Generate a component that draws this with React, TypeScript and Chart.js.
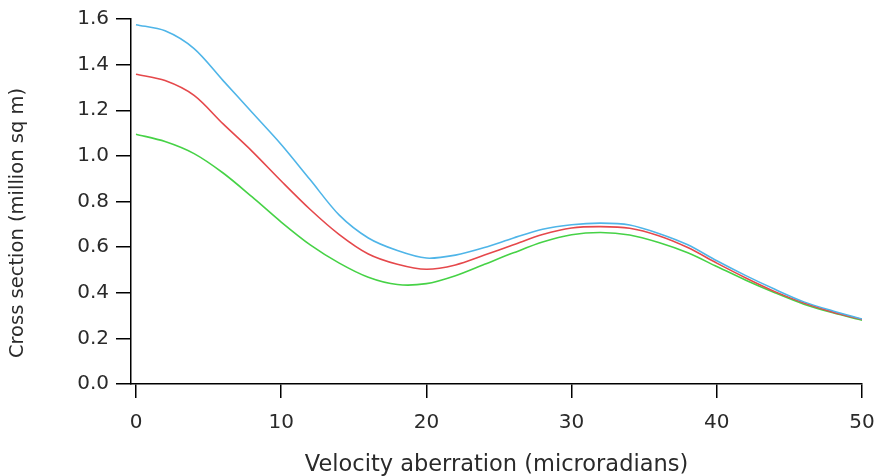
import React, { useEffect, useRef } from "react";
import { Chart, registerables } from "chart.js";
Chart.register(...registerables);

const xValues = [0, 2, 4, 6, 8, 10, 12, 14, 16, 18, 20, 22, 24, 26, 28, 30, 32, 34, 36, 38, 40, 42, 44, 46, 48, 50];
const blueValues = [1.575, 1.548, 1.47, 1.33, 1.19, 1.05, 0.895, 0.74, 0.64, 0.585, 0.552, 0.565, 0.598, 0.64, 0.678, 0.698, 0.705, 0.697, 0.66, 0.61, 0.54, 0.475, 0.415, 0.36, 0.32, 0.285];
const redValues = [1.358, 1.33, 1.265, 1.14, 1.02, 0.89, 0.765, 0.655, 0.57, 0.525, 0.503, 0.522, 0.565, 0.61, 0.655, 0.684, 0.69, 0.683, 0.65, 0.598, 0.53, 0.465, 0.405, 0.355, 0.315, 0.283];
const greenValues = [1.095, 1.063, 1.01, 0.925, 0.82, 0.71, 0.61, 0.53, 0.468, 0.436, 0.44, 0.475, 0.525, 0.575, 0.622, 0.654, 0.664, 0.653, 0.62, 0.575, 0.515, 0.455, 0.4, 0.35, 0.312, 0.28];
const xTicks = [0, 10, 20, 30, 40, 50];
const yTicks = [0, 0.2, 0.4, 0.6, 0.8, 1.0, 1.2, 1.4, 1.6];
const xTitle = "Velocity aberration (microradians)";
const yTitle = "Cross section (million sq m)";

const FONT = "'DejaVu Sans', Verdana, sans-serif";
const TEXT = "#2a2a2a";

const yTitlePlugin = {
  id: "yTitlePlugin",
  afterDraw(chart: any) {
    const ctx = chart.ctx;
    ctx.save();
    ctx.translate(18, 223);
    ctx.rotate(-Math.PI / 2);
    ctx.font = `19.5px ${FONT}`;
    ctx.fillStyle = TEXT;
    ctx.textAlign = "center";
    ctx.textBaseline = "middle";
    ctx.fillText(yTitle, 0, 0);
    ctx.restore();
  },
};

export default function App() {
  const ref = useRef<HTMLCanvasElement>(null);
  useEffect(() => {
    document.body.style.margin = "0";
    const mk = (vals: number[], color: string) => ({
      data: xValues.map((x, i) => ({ x, y: vals[i] })),
      borderColor: color,
      borderWidth: 1.6,
      pointRadius: 0,
      tension: 0.3,
      fill: false,
    });
    const chart = new Chart(ref.current!, {
      type: "line",
      data: {
        datasets: [
          mk(blueValues, "#4fb5e8"),
          mk(redValues, "#e5484b"),
          mk(greenValues, "#46d246"),
        ],
      },
      plugins: [yTitlePlugin],
      options: {
        responsive: false,
        animation: false,
        layout: { padding: { top: 19, right: 21, left: 0, bottom: 0 } },
        plugins: { legend: { display: false }, tooltip: { enabled: false } },
        scales: {
          x: {
            type: "linear",
            min: -0.344,
            max: 50,
            afterBuildTicks: (s: any) => {
              s.ticks = xTicks.map((v) => ({ value: v }));
            },
            afterFit: (s: any) => {
              s.height = 92;
              s.paddingLeft = 0;
              s.paddingRight = 0;
            },
            grid: { drawOnChartArea: false, drawTicks: true, tickLength: 14, color: "#000", lineWidth: 1.5 },
            border: { color: "#000", width: 1.5 },
            ticks: { color: TEXT, font: { family: FONT, size: 20 }, padding: 13, maxRotation: 0, autoSkip: false },
            title: { display: true, text: xTitle, color: TEXT, font: { family: FONT, size: 22.5 }, padding: { top: 0, bottom: -3 } },
          },
          y: {
            type: "linear",
            min: 0,
            max: 1.6,
            afterBuildTicks: (s: any) => {
              s.ticks = yTicks.map((v) => ({ value: v }));
            },
            afterFit: (s: any) => {
              s.width = 131;
            },
            grid: { drawOnChartArea: false, drawTicks: true, tickLength: 15, color: "#000", lineWidth: 1.5 },
            border: { color: "#000", width: 1.5 },
            ticks: {
              color: TEXT,
              font: { family: FONT, size: 20 },
              padding: 7,
              autoSkip: false,
              callback: (v: any) => Number(v).toFixed(1),
            },
            title: { display: false },
          },
        },
      },
    } as any);
    return () => chart.destroy();
  }, []);
  return <canvas ref={ref} width={883} height={476} style={{ display: "block" }} />;
}
